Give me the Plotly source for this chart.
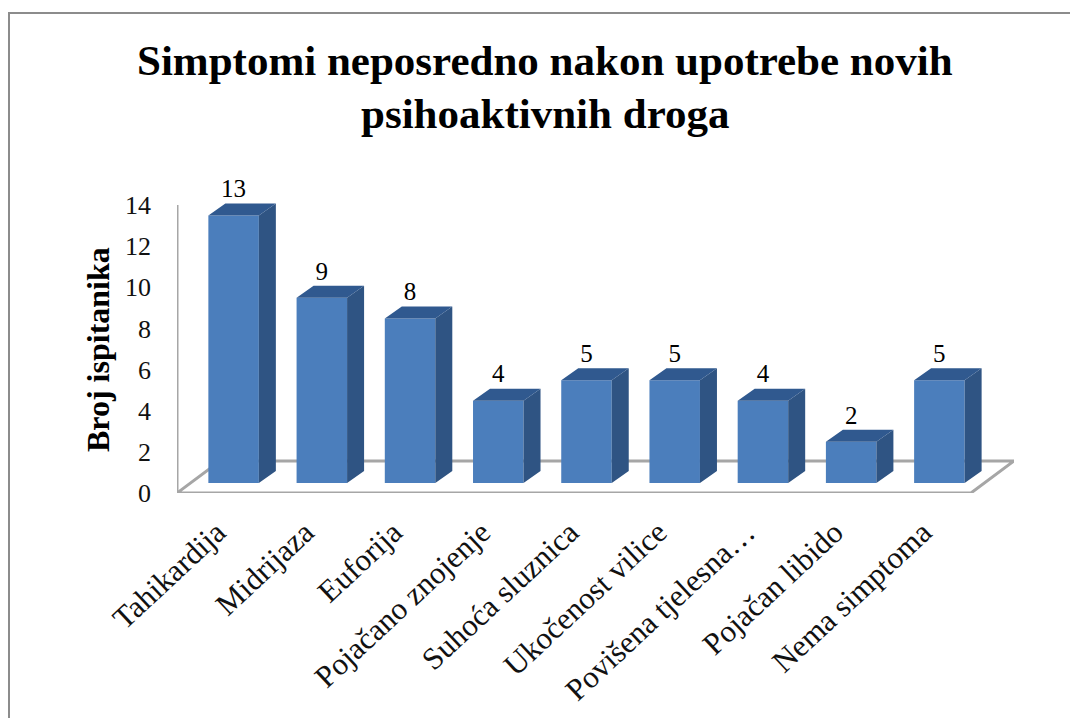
import plotly.graph_objects as go

categories = ["Tahikardija", "Midrijaza", "Euforija", "Pojačano znojenje", "Suhoća sluznica",
              "Ukočenost vilice", "Povišena tjelesna…", "Pojačan libido", "Nema simptoma"]
values = [13, 9, 8, 4, 5, 5, 4, 2, 5]
y_ticks = [0, 2, 4, 6, 8, 10, 12, 14]
title_lines = ["<b>Simptomi neposredno nakon upotrebe novih</b>", "<b>psihoaktivnih droga</b>"]
y_title = "<b>Broj ispitanika</b>"

W, H = 1070, 718
L, R, T, B = 177, 1014, 203, 493          # plot box, px
SLOT = 88.22                              # px per category
UNIT = 20.57                              # px per y unit
n = len(categories)
x_range = [-0.5, -0.5 + (R - L) / SLOT]
y_range = [0, (B - T) / UNIT]

def px(v): return v / SLOT
def py(v): return v / UNIT

xs = list(range(n))
bar_dx, bar_base = px(12.5), py(10)       # projected shift of bars onto floor
bar_w = px(50.5)
depth_x, depth_y = px(17), py(12)
floor_dx, floor_dy = px(43), py(32)
centers = [x + bar_dx for x in xs]
font = "Liberation Serif"
GREY = "#a6a6a6"

side_x, side_y, top_x, top_y = [], [], [], []
for c, v in zip(centers, values):
    r, l = c + bar_w / 2, c - bar_w / 2
    t = v + bar_base
    side_x += [r, r + depth_x, r + depth_x, r, r, None]
    side_y += [bar_base, bar_base + depth_y, t + depth_y, t, bar_base, None]
    top_x += [l, r, r + depth_x, l + depth_x, l, None]
    top_y += [t, t, t + depth_y, t + depth_y, t, None]

fig = go.Figure()
fig.add_trace(go.Bar(x=centers, y=values, base=bar_base, width=bar_w,
                     marker=dict(color="#4b7ebc", line=dict(width=0)), hoverinfo="skip"))
fig.add_trace(go.Scatter(x=side_x, y=side_y, mode="lines", fill="toself", fillcolor="#2f5483",
                         line=dict(width=0, color="#2f5483"), hoverinfo="skip"))
fig.add_trace(go.Scatter(x=top_x, y=top_y, mode="lines", fill="toself", fillcolor="#30598f",
                         line=dict(width=0, color="#30598f"), hoverinfo="skip"))
fig.add_trace(go.Scatter(x=centers, y=[v + bar_base + depth_y for v in values], mode="text",
                         text=[str(v) for v in values], textposition="top center", cliponaxis=False,
                         textfont=dict(family=font, size=25, color="#000"), hoverinfo="skip"))

x0, x1 = -0.5, n - 0.5
floor = (f"M {x0} 0 L {x1} 0 L {x1 + floor_dx} {floor_dy} L {x0 + floor_dx} {floor_dy} Z")
shapes = [
    dict(type="path", path=floor, xref="x", yref="y", layer="below",
         line=dict(color=GREY, width=3), fillcolor="white"),
    dict(type="line", xref="x", yref="y", x0=x0, x1=x0, y0=0, y1=y_ticks[-1], layer="below",
         line=dict(color=GREY, width=3)),
]
# outer chart frame: only the top and left edges fall inside the picture
pw, ph = R - L, B - T
def fx(p): return (p - L) / pw
def fy(p): return (B - p) / ph
shapes.append(dict(type="rect", xref="paper", yref="paper", x0=fx(9), x1=fx(1080), y0=fy(730), y1=fy(13),
                   line=dict(color="#8c8c8c", width=2), layer="below"))

annotations = [
    dict(text=title_lines[0], xref="paper", yref="paper", x=fx(545), y=fy(60), xanchor="center", yanchor="middle",
         showarrow=False, font=dict(family=font, size=43, color="#000")),
    dict(text=title_lines[1], xref="paper", yref="paper", x=fx(545), y=fy(113), xanchor="center", yanchor="middle",
         showarrow=False, font=dict(family=font, size=43, color="#000")),
    dict(text=y_title, xref="paper", yref="paper", x=fx(98), y=fy(350), textangle=-90,
         xanchor="center", yanchor="middle", showarrow=False,
         font=dict(family=font, size=32, color="#000")),
]

fig.update_layout(
    width=W, height=H, autosize=False, showlegend=False,
    margin=dict(l=L, r=W - R, t=T, b=H - B, pad=0),
    paper_bgcolor="white", plot_bgcolor="white",
    shapes=shapes,
    xaxis=dict(range=x_range, tickmode="array", tickvals=[x - px(4) for x in xs], ticktext=categories, tickangle=-43,
               showgrid=False, zeroline=False, showline=False, ticks="", ticklabelstandoff=14,
               tickfont=dict(family=font, size=31, color="#111")),
    yaxis=dict(range=y_range, tickmode="array", tickvals=y_ticks, showgrid=False, zeroline=False,
               showline=False, ticks="", ticklabelstandoff=25,
               tickfont=dict(family=font, size=26, color="#111")),
    annotations=annotations,
)
fig.write_html("out.html", config={"displayModeBar": False},
               post_script="document.body.style.margin='0';document.body.style.overflow='hidden';")
